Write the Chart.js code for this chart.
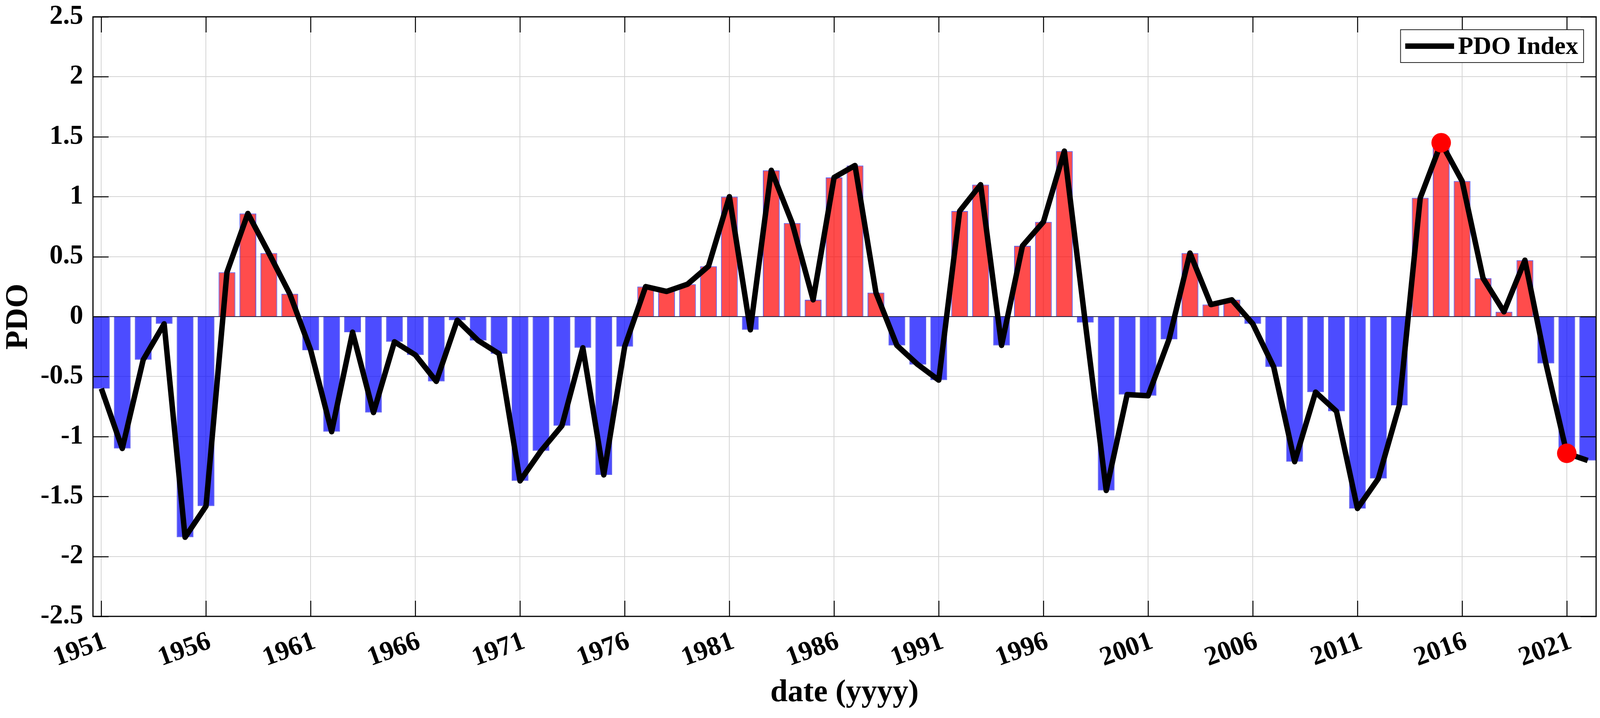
<!DOCTYPE html>
<html>
<head>
<meta charset="utf-8">
<script src="https://cdn.jsdelivr.net/npm/chart.js@4/dist/chart.umd.min.js"></script>
<style>
  html, body { margin: 0; padding: 0; background: #fff; overflow: hidden; }
  canvas { display: block; }
</style>
</head>
<body>
<canvas id="pdoChart" width="4111" height="1837"></canvas>
<script>
var years = [
	1951, 1952, 1953, 1954, 1955, 1956, 1957, 1958, 1959, 1960,
	1961, 1962, 1963, 1964, 1965, 1966, 1967, 1968, 1969, 1970,
	1971, 1972, 1973, 1974, 1975, 1976, 1977, 1978, 1979, 1980,
	1981, 1982, 1983, 1984, 1985, 1986, 1987, 1988, 1989, 1990,
	1991, 1992, 1993, 1994, 1995, 1996, 1997, 1998, 1999, 2000,
	2001, 2002, 2003, 2004, 2005, 2006, 2007, 2008, 2009, 2010,
	2011, 2012, 2013, 2014, 2015, 2016, 2017, 2018, 2019, 2020,
	2021, 2022
];
var pdoValues = [
	-0.60, -1.10, -0.36, -0.06, -1.84, -1.58, 0.37, 0.86, 0.53, 0.19,
	-0.28, -0.96, -0.13, -0.80, -0.21, -0.32, -0.54, -0.03, -0.20, -0.31,
	-1.37, -1.12, -0.91, -0.26, -1.32, -0.25, 0.25, 0.21, 0.27, 0.42,
	1.00, -0.11, 1.22, 0.78, 0.14, 1.16, 1.26, 0.20, -0.24, -0.40,
	-0.53, 0.88, 1.10, -0.24, 0.59, 0.79, 1.38, -0.05, -1.45, -0.65,
	-0.66, -0.19, 0.53, 0.10, 0.14, -0.06, -0.42, -1.21, -0.63, -0.79,
	-1.60, -1.35, -0.74, 0.99, 1.45, 1.13, 0.32, 0.04, 0.47, -0.39,
	-1.14, -1.20
];
var markYears = [2015, 2021];
var markValues = [1.45, -1.14];
var xTickYears = [1951, 1956, 1961, 1966, 1971, 1976, 1981, 1986, 1991, 1996, 2001, 2006, 2011, 2016, 2021];

var FONT = 'Liberation Serif, Times New Roman, serif';

function toPoints(xs, ys) {
	return xs.map(function (x, i) { return { x: x, y: ys[i] }; });
}

// frame, inward ticks and the legend box (drawn inside the axes like matlab)
var axesDecor = {
	id: 'axesDecor',
	afterDraw: function (chart) {
		var ctx = chart.ctx;
		var a = chart.chartArea;
		var xs = chart.scales.x, ys = chart.scales.y;
		var tl = 40;
		ctx.save();
		ctx.strokeStyle = '#000';
		ctx.lineWidth = 2.5;
		ctx.beginPath();
		xTickYears.forEach(function (v) {
			var px = Math.round(xs.getPixelForValue(v)) + 0.5;
			ctx.moveTo(px, a.bottom); ctx.lineTo(px, a.bottom - tl);
			ctx.moveTo(px, a.top); ctx.lineTo(px, a.top + tl);
		});
		ys.ticks.forEach(function (t) {
			var py = Math.round(ys.getPixelForValue(t.value)) + 0.5;
			ctx.moveTo(a.left, py); ctx.lineTo(a.left + tl, py);
			ctx.moveTo(a.right, py); ctx.lineTo(a.right - tl, py);
		});
		ctx.stroke();

		ctx.lineWidth = 3;
		ctx.strokeRect(a.left, a.top, a.right - a.left, a.bottom - a.top);

		// legend
		ctx.font = 'bold 64px ' + FONT;
		var label = 'PDO Index';
		var tw = ctx.measureText(label).width;
		var lineLen = 125, pad = 12, gap = 10;
		var bw = pad + lineLen + gap + tw + 14;
		var bh = 84;
		var bx = a.right - 32 - bw;
		var by = a.top + 33;
		ctx.fillStyle = '#fff';
		ctx.fillRect(bx, by, bw, bh);
		ctx.lineWidth = 2;
		ctx.strokeStyle = '#222';
		ctx.strokeRect(bx, by, bw, bh);
		ctx.lineWidth = 14;
		ctx.strokeStyle = '#000';
		ctx.beginPath();
		ctx.moveTo(bx + pad, by + bh / 2);
		ctx.lineTo(bx + pad + lineLen, by + bh / 2);
		ctx.stroke();
		ctx.fillStyle = '#000';
		ctx.textAlign = 'left';
		ctx.textBaseline = 'middle';
		ctx.fillText(label, bx + pad + lineLen + gap, by + bh / 2 + 3);
		ctx.restore();
	}
};

window.onload = function () {
	var ctx = document.getElementById('pdoChart').getContext('2d');
	new Chart(ctx, {
		type: 'bar',
		data: {
			datasets: [{
				type: 'line',
				label: 'marks',
				data: toPoints(markYears, markValues),
				showLine: false,
				pointRadius: 25,
				pointBackgroundColor: '#ff0000',
				pointBorderColor: '#ff0000',
				pointBorderWidth: 0,
				order: 1
			}, {
				type: 'line',
				label: 'PDO Index',
				data: toPoints(years, pdoValues),
				borderColor: '#000',
				borderWidth: 14,
				borderJoinStyle: 'round',
				pointRadius: 0,
				tension: 0,
				order: 2
			}, {
				type: 'bar',
				label: 'PDO',
				data: toPoints(years, pdoValues),
				backgroundColor: function (c) {
					var v = c.raw ? c.raw.y : 0;
					return v >= 0 ? 'rgba(255,0,0,0.7)' : 'rgba(0,0,255,0.7)';
				},
				borderColor: 'rgba(40,40,230,0.75)',
				borderWidth: 2,
				barPercentage: 0.8,
				categoryPercentage: 1.0,
				order: 3
			}]
		},
		options: {
			responsive: false,
			devicePixelRatio: 1,
			animation: false,
			events: [],
			layout: { padding: { top: 43, right: 23, left: 0, bottom: 0 } },
			plugins: {
				legend: { display: false },
				tooltip: { enabled: false }
			},
			scales: {
				x: {
					type: 'linear',
					min: 1950.6,
					max: 2022.4,
					offset: false,
					afterBuildTicks: function (s) {
						s.ticks = xTickYears.map(function (v) { return { value: v }; });
					},
					afterFit: function (s) {
						s.height = 260;
						s.paddingLeft = 0;
						s.paddingRight = 0;
					},
					grid: { color: '#d4d4d4', lineWidth: 2, drawTicks: false, offset: false },
					border: { display: false },
					ticks: {
						autoSkip: false,
						minRotation: 20,
						maxRotation: 20,
						padding: 24,
						labelOffset: 10,
						color: '#000',
						font: { family: FONT, size: 69, weight: 'bold' },
						callback: function (v) { return String(v); }
					},
					title: {
						display: true,
						text: 'date (yyyy)',
						color: '#000',
						font: { family: FONT, size: 80, weight: 'bold' },
						padding: { top: 0, bottom: 16 }
					}
				},
				y: {
					min: -2.5,
					max: 2.5,
					afterFit: function (s) {
						s.width = 238;
						s.paddingTop = 0;
						s.paddingBottom = 0;
					},
					grid: {
						color: function (c) { return c.tick && c.tick.value === 0 ? '#1a1a40' : '#d4d4d4'; },
						lineWidth: 2,
						drawTicks: false
					},
					border: { display: false },
					ticks: {
						stepSize: 0.5,
						padding: 25,
						color: '#000',
						font: { family: FONT, size: 69, weight: 'bold' },
						callback: function (v) { return String(v); }
					},
					title: {
						display: true,
						text: 'PDO',
						color: '#000',
						font: { family: FONT, size: 80, weight: 'bold' },
						padding: { top: 0, bottom: 0 }
					}
				}
			}
		},
		plugins: [axesDecor]
	});
};
</script>
</body>
</html>
